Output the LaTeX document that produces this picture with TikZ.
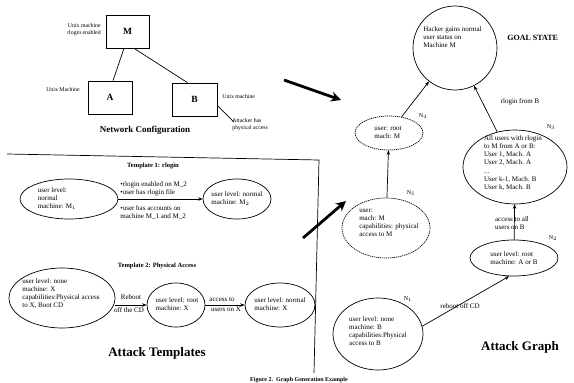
\documentclass[tikz,border=0pt]{standalone}
\usepackage{fontspec}
\setmainfont{Liberation Serif}
\usetikzlibrary{arrows.meta,calc,shapes.geometric}
\begin{document}
\begin{tikzpicture}[x=1pt,y=-1pt,line width=0.7pt,
  txt/.style={font=\fontsize{7}{8}\selectfont, align=left, inner sep=0pt},
  ctxt/.style={font=\fontsize{7}{8}\selectfont, align=center, inner sep=0pt},
  small/.style={font=\fontsize{5.8}{7}\selectfont, inner sep=0pt},
  box/.style={draw, rectangle, inner sep=0pt, font=\fontsize{9.5}{10}\selectfont\bfseries},
  ell/.style={draw, ellipse, inner sep=0pt},
  dell/.style={ell, dash pattern=on 1.2pt off 0.8pt},
  arr/.style={-{Stealth[length=4.5pt,width=3.5pt]}},
  big/.style={line width=2.8pt, -{Stealth[length=10pt,width=10pt]}},
  title/.style={font=\fontsize{6.5}{8}\selectfont\bfseries, inner sep=0pt},
  head/.style={font=\fontsize{13}{15}\selectfont\bfseries, inner sep=0pt},
  nl/.style={font=\fontsize{6}{7}\selectfont, inner sep=0pt}]
\useasboundingbox (0,0) rectangle (574,383);

% ---------------- Network configuration
\node[box, minimum width=43, minimum height=33] (M) at (127.5,31.5) {M};
\node[box, minimum width=44, minimum height=33] (A) at (110,97.5) {A};
\node[box, minimum width=45, minimum height=33] (B) at (194.5,99.5) {B};
\draw ($(M.south)+(-3.5,0)$) -- ($(A.north)+(3,0)$);
\draw ($(M.south)+(6.5,0)$) -- ($(B.north)+(-7,0)$);
\node[small, align=right, anchor=east] (lm) at (101,30) {Unix machine\\rlogin enabled};
\node[small, anchor=east] (la) at (80,90) {Unix Machine};
\node[small, anchor=west] (lb) at (222,97) {Unix machine};
\node[small, align=left, anchor=north west] (lat) at (232,118) {Attacker has\\physical access};
\coordinate (bend) at (234,122);
\draw ($(B.east)+(0,6)$) -- (bend);
\node[font=\fontsize{9}{10}\selectfont\bfseries, inner sep=0pt] (nc) at (145,130) {Network Configuration};

% ---------------- Panel frame
\coordinate (f1) at (7,154);
\coordinate (f2) at (319,160);
\coordinate (f3) at (314,373);
\draw (f1) -- (f2) -- (f3);

% ---------------- Template 1
\node[title] (t1) at (153,166) {Template 1: rlogin};
\node[ell, minimum width=98, minimum height=40] (e1) at (69,199) {};
\node[txt] (e1t) at (57,199) {user level:\\normal\\machine: M$_1$};
\node[ell, minimum width=68, minimum height=40] (e2) at (237,199) {};
\node[txt] (e2t) at (237,199) {user level: normal\\machine: M$_2$};
\draw[arr] (e1.east) -- (e2.west);
\node[txt, anchor=south west] (r1) at (120,196) {\textbullet rlogin enabled on M\_2\\\textbullet user has rlogin file};
\node[txt, anchor=north west] (r2) at (120,205) {\textbullet user has accounts on\\machine M\_1 and M\_2};

% ---------------- Template 2
\node[title] (t2) at (157,266) {Template 2: Physical Access};
\node[ell, minimum width=106, minimum height=60] (e3) at (62,298) {};
\node[txt, anchor=north west] (e3t) at (22,278) {user level: none\\machine: X\\capabilities:Physical access\\to X, Boot CD};
\node[ell, minimum width=58, minimum height=44] (e4) at (176,305) {};
\node[txt] (e4t) at (177,304) {user level: root\\machine: X};
\node[ell, minimum width=70, minimum height=44] (e5) at (280,305) {};
\node[txt] (e5t) at (280,304) {user level: normal\\machine: X};
\draw[arr] (e3.east |- e4) -- (e4.west);
\draw[arr] (e4.east) -- (e5.west);
\node[txt, anchor=south] (l31) at (131,300) {Reboot};
\node[txt, anchor=north] (l32) at (129,307) {off the CD};
\node[txt, anchor=south] (l41) at (222,302) {access to};
\node[txt, anchor=north] (l42) at (226,307) {users on X};
\node[head] (at) at (157,353) {Attack Templates};

% ---------------- Attack graph
\node[ell, circle, minimum size=84] (goal) at (455,48) {};
\node[txt, anchor=north west] (goalt) at (423,26) {Hacker gains normal\\user status on\\Machine M};
\node[font=\fontsize{8}{9}\selectfont\bfseries, inner sep=0pt, anchor=west] (gs) at (507,38) {GOAL STATE};

\node[dell, minimum width=68, minimum height=34] (n4) at (389,133) {};
\node[txt] (n4t) at (388,133) {user: root\\mach: M};
\node[nl] (n4l) at (423,116) {N$_4$};

\node[dell, minimum width=88, minimum height=60] (n5) at (386,228) {};
\node[txt] (n5t) at (389,223) {user:\\mach: M\\capabilities: physical\\access to M};
\node[nl] (n5l) at (411,193) {N$_5$};

\node[ell, minimum width=104, minimum height=74] (n3) at (515,167) {};
\node[txt, font=\fontsize{7}{8.2}\selectfont] (n3t) at (513,163) {All users with rlogin\\to M from A or B:\\User 1, Mach. A\\User 2, Mach. A\\...\\User k-1, Mach. B\\User k, Mach. B};
\node[nl] (n3l) at (551,127) {N$_3$};

\node[ell, minimum width=88, minimum height=36] (n2) at (514,258) {};
\node[txt] (n2t) at (514,258) {user level: root\\machine: A or B};
\node[nl] (n2l) at (553,238) {N$_2$};

\node[ell, minimum width=90, minimum height=72] (n1) at (378,334) {};
\node[txt] (n1t) at (378,331) {user level: none\\machine: B\\capabilities:Physical\\access to B};
\node[nl] (n1l) at (408,299) {N$_1$};

\draw[arr] (n5) -- (n4);
\draw[arr] (n4) -- (goal);
\draw[arr] (n3) -- (goal);
\node[txt] (rl) at (520,102) {rlogin from B};
\draw[arr] (n2) -- (n3);
\node[txt] (acc) at (512,223) {access to all\\users on B};
\draw[arr] (n1.10) -- (n2.255);
\node[txt] (rb) at (460,306) {reboot off CD};
\node[head] (ag) at (520,347) {Attack Graph};

% ---------------- big arrows
\coordinate (ta1) at (284,80);
\coordinate (ta2) at (341,100);
\draw[big] (ta1) -- (ta2);
\coordinate (ba1) at (303,238);
\coordinate (ba2) at (346,201);
\draw[big] (ba1) -- (ba2);

\node[font=\fontsize{6}{7}\selectfont\bfseries, inner sep=0pt] (cap) at (299,380) {Figure 2.\ \ Graph Generation Example};
\end{tikzpicture}
\end{document}
